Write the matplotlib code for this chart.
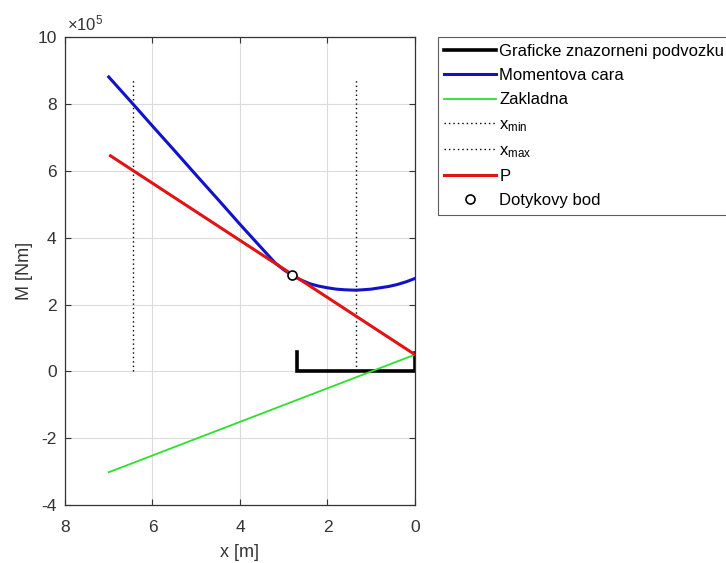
import matplotlib
matplotlib.use("Agg")
import matplotlib.pyplot as plt
from matplotlib.ticker import FuncFormatter
import numpy as np

plt.rcParams['font.family'] = ['Liberation Sans', 'DejaVu Sans']
plt.rcParams['mathtext.fontset'] = 'custom'
plt.rcParams['mathtext.rm'] = 'Liberation Sans'
plt.rcParams['mathtext.it'] = 'Liberation Sans'

# Moment line (x in m, M in Nm)
moment_x = [7.0, 6.5, 6.0, 5.5, 5.0, 4.5, 4.0, 3.5, 3.2, 3.0, 2.8, 2.6, 2.4,
            2.2, 2.0, 1.8, 1.6, 1.4, 1.33, 1.2, 1.0, 0.8, 0.6, 0.4, 0.2, 0.0]
moment_m = [8.81e5, 8.08e5, 7.34e5, 6.61e5, 5.87e5, 5.14e5, 4.40e5, 3.68e5,
            3.25e5, 3.04e5, 2.87e5, 2.73e5, 2.62e5, 2.55e5, 2.50e5, 2.46e5,
            2.44e5, 2.43e5, 2.43e5, 2.44e5, 2.46e5, 2.50e5, 2.54e5, 2.60e5,
            2.68e5, 2.78e5]

# Base line and tangent line P
base_x = [7.0, 0.0]
base_m = [-3.02e5, 0.50e5]
p_x = [6.96, 0.0]
p_m = [6.45e5, 0.50e5]

# Undercarriage outline
chassis_x = [2.69, 2.69, 0.0, 0.0]
chassis_m = [0.58e5, 0.0, 0.0, 0.55e5]

# Limits of the load position
x_min = 6.44
x_max = 1.35
limit_m = [0.0, 8.74e5]

# Contact point
contact_x = 2.80
contact_m = 2.87e5

x_ticks = [8, 6, 4, 2, 0]
m_ticks = [-4e5, -2e5, 0, 2e5, 4e5, 6e5, 8e5, 10e5]
m_scale = 1e5

fig = plt.figure(figsize=(7.26, 5.63), dpi=100)
ax = fig.add_axes([0.0895, 0.103, 0.4821, 0.831])

ax.plot(chassis_x, chassis_m, color='black', lw=2.6, solid_joinstyle='miter',
        label='Graficke znazorneni podvozku', zorder=3)
ax.plot(moment_x, moment_m, color='#1212c8', lw=2.2,
        label='Momentova cara', zorder=4)
ax.plot(base_x, base_m, color='#2ee02e', lw=1.3, label='Zakladna', zorder=3)
ax.plot([x_min, x_min], limit_m, color='black', lw=1.0, ls=(0, (1, 2.2)),
        label=r'x$_{\mathrm{min}}$', zorder=2)
ax.plot([x_max, x_max], limit_m, color='black', lw=1.0, ls=(0, (1, 2.2)),
        label=r'x$_{\mathrm{max}}$', zorder=2)
ax.plot(p_x, p_m, color='#e01414', lw=2.2, label='P', zorder=5)
ax.plot([contact_x], [contact_m], ls='none', marker='o', ms=6.5,
        mfc='white', mec='black', mew=1.2, label='Dotykovy bod', zorder=6)

ax.set_xlim(8, 0)
ax.set_ylim(-4e5, 10e5)
ax.set_xticks(x_ticks)
ax.set_yticks(m_ticks)
ax.yaxis.set_major_formatter(FuncFormatter(lambda v, p: f'{v / m_scale:g}'))
ax.text(0.005, 1.008, r'$\times$10$^{5}$', transform=ax.transAxes,
        ha='left', va='bottom', fontsize=12, color='#333333')

ax.grid(True, color='#dcdcdc', lw=0.8)
ax.set_axisbelow(True)
for s in ax.spines.values():
    s.set_color('#333333')
    s.set_linewidth(0.9)
ax.tick_params(direction='in', top=True, right=True, length=4,
               labelsize=12.5, colors='#333333', width=0.8)
ax.tick_params(axis='x', pad=11)
ax.tick_params(axis='y', pad=6)
ax.set_xlabel('x [m]', fontsize=13, color='#333333', labelpad=6)
ax.set_ylabel('M [Nm]', fontsize=13, color='#333333', labelpad=3)

leg = fig.legend(loc='upper left', bbox_to_anchor=(0.603, 0.934),
                 fontsize=12, frameon=True, fancybox=False, edgecolor='#333333',
                 handlelength=3.1, handletextpad=0.2, borderpad=0.4,
                 labelspacing=0.56, borderaxespad=0)
leg.get_frame().set_linewidth(0.8)

fig.savefig('out.png', dpi=100, facecolor='white')
